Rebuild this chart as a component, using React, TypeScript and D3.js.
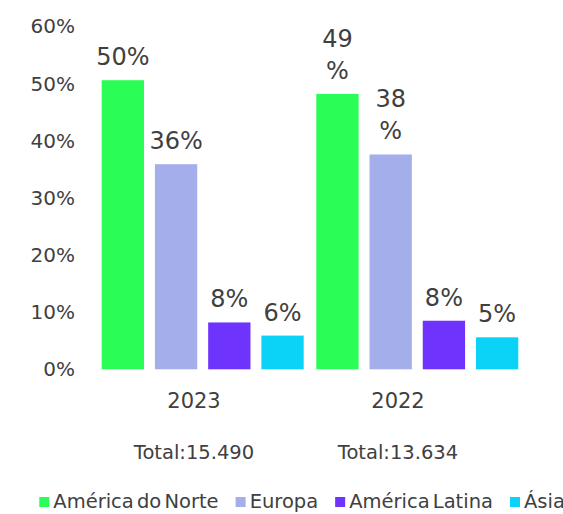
import React, { useEffect, useRef } from "react";
import * as d3 from "d3";

const years = ["2023", "2022"];
const regions = ["América do Norte", "Europa", "América Latina", "Ásia"];
const values2023 = [50.6, 35.9, 8.2, 5.9];
const values2022 = [48.2, 37.6, 8.5, 5.6];
const labels2023 = ["50%", "36%", "8%", "6%"];
const labels2022 = ["49\n%", "38\n%", "8%", "5%"];
const totals = ["Total:15.490", "Total:13.634"];
const yTicks = [0, 10, 20, 30, 40, 50, 60];
const colors = ["#2afd55", "#a3aeeb", "#6f33fe", "#0bd3f8"];

const W = 563;
const H = 514;

export default function App() {
  const ref = useRef<SVGSVGElement>(null);

  useEffect(() => {
    const svg = d3.select(ref.current);
    svg.selectAll("*").remove();
    const font = "'DejaVu Sans', sans-serif";
    const textColor = "#404040";

    const y = d3.scaleLinear().domain([0, 60]).range([369.3, 26.5]);
    const x0 = d3.scaleBand().domain(years).range([95.4, 524.6]).paddingInner(0.0587).paddingOuter(0.0294);
    const x1 = d3.scaleBand().domain(regions).range([0, x0.bandwidth()]).paddingInner(0.205).paddingOuter(0);
    const xl = d3.scaleBand().domain(years).range([92, 500]);

    const series = [
      { year: years[0], values: values2023, labels: labels2023 },
      { year: years[1], values: values2022, labels: labels2022 },
    ];

    // y axis
    const ax = svg.append("g").attr("transform", "translate(75,0)")
      .call(d3.axisLeft(y).tickValues(yTicks).tickFormat((d) => `${d}%`).tickSize(0).tickPadding(0));
    ax.select(".domain").remove();
    ax.selectAll("text").attr("font-family", font).attr("font-size", 20).attr("fill", textColor);

    // bars
    series.forEach((s) => {
      const g = svg.append("g").attr("transform", `translate(${x0(s.year)},0)`);
      regions.forEach((r, i) => {
        const v = s.values[i];
        const bx = x1(r)!;
        g.append("rect")
          .attr("x", bx)
          .attr("y", y(v))
          .attr("width", x1.bandwidth())
          .attr("height", y(0) - y(v))
          .attr("fill", colors[i]);
        const lines = s.labels[i].split("\n");
        const t = g.append("text")
          .attr("x", bx + x1.bandwidth() / 2)
          .attr("text-anchor", "middle")
          .attr("font-family", font)
          .attr("font-size", 24)
          .attr("fill", textColor);
        lines.forEach((ln, k) => {
          t.append("tspan")
            .attr("x", bx + x1.bandwidth() / 2)
            .attr("y", y(v) - 15 - (lines.length - 1 - k) * 32.3)
            .text(ln);
        });
      });
    });

    // year labels + totals
    years.forEach((yr, i) => {
      const cx = xl(yr)! + xl.bandwidth() / 2;
      svg.append("text")
        .attr("x", cx).attr("y", 408)
        .attr("text-anchor", "middle")
        .attr("font-family", font).attr("font-size", 21)
        .attr("fill", textColor)
        .text(yr);
      svg.append("text")
        .attr("x", cx).attr("y", 459)
        .attr("text-anchor", "middle")
        .attr("font-family", font).attr("font-size", 19.5)
        .attr("fill", textColor)
        .text(totals[i]);
    });

    // legend
    let lx = 39.3;
    regions.forEach((r, i) => {
      svg.append("rect")
        .attr("x", lx).attr("y", 497)
        .attr("width", 10).attr("height", 10)
        .attr("fill", colors[i]);
      const t = svg.append("text")
        .attr("x", lx + 14).attr("y", 508)
        .attr("font-family", font).attr("font-size", 19.5)
        .attr("word-spacing", -3)
        .attr("fill", textColor)
        .text(r);
      const w = (t.node() as SVGTextElement).getComputedTextLength();
      lx += 14 + w + 17;
    });
  }, []);

  return (
    <div style={{ position: "absolute", left: 0, top: 0, width: W, height: H, overflow: "hidden", background: "#fff" }}>
      <svg ref={ref} width={W} height={H} style={{ display: "block", overflow: "hidden" }} />
    </div>
  );
}
